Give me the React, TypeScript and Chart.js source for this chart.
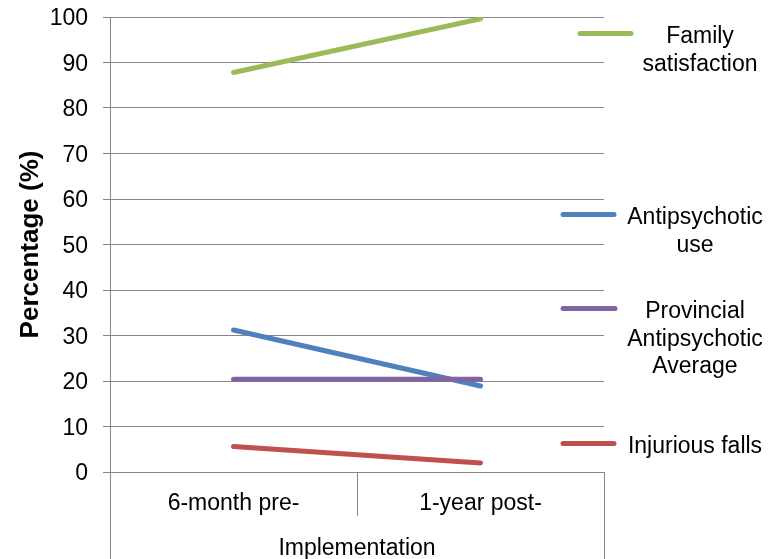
import React, { useEffect, useRef } from "react";
import { Chart, registerables } from "chart.js";

Chart.register(...registerables);

// ---- data ----
const categories = ["6-month pre-", "1-year post-"];
const groupLabel = "Implementation";
const yAxisTitle = "Percentage (%)";
const seriesNames = [
  "Family satisfaction",
  "Antipsychotic use",
  "Provincial Antipsychotic Average",
  "Injurious falls",
];
const familySatisfaction = [87.8, 99.6];
const antipsychoticUse = [31.2, 18.9];
const provincialAverage = [20.4, 20.4];
const injuriousFalls = [5.6, 2.0];
const yMin = 0;
const yMax = 100;
const yStep = 10;

// ---- styles ----
const seriesColors = ["#9BBB59", "#4F81BD", "#8064A2", "#C0504D"];
const axisColor = "#868686";
const fontFamily = "'Liberation Sans', Arial, sans-serif";

// legend layout (pixel positions of each entry, style only)
const legendLayout = [
  { x1: 580, x2: 631, textX: 700, y: 35 },
  { x1: 563, x2: 614, textX: 695, y: 216 },
  { x1: 563, x2: 615, textX: 695, y: 310 },
  { x1: 563, x2: 614, textX: 695, y: 445 },
];

function wrapText(ctx: CanvasRenderingContext2D, text: string, maxWidth: number): string[] {
  const words = text.split(" ");
  const lines: string[] = [];
  let cur = "";
  for (const w of words) {
    const test = cur ? cur + " " + w : w;
    if (cur && ctx.measureText(test).width > maxWidth) {
      lines.push(cur);
      cur = w;
    } else {
      cur = test;
    }
  }
  if (cur) lines.push(cur);
  return lines;
}

const legendPlugin = {
  id: "customLegend",
  afterDraw(chart: any) {
    const ctx: CanvasRenderingContext2D = chart.ctx;
    ctx.save();
    ctx.font = `23px ${fontFamily}`;
    ctx.fillStyle = "#000000";
    ctx.textAlign = "center";
    ctx.textBaseline = "middle";
    chart.data.datasets.forEach((ds: any, i: number) => {
      const l = legendLayout[i];
      if (!l) return;
      ctx.strokeStyle = ds.borderColor;
      ctx.lineWidth = 5;
      ctx.lineCap = "round";
      ctx.beginPath();
      ctx.moveTo(l.x1, l.y - 1.5);
      ctx.lineTo(l.x2, l.y - 1.5);
      ctx.stroke();
      const lines = wrapText(ctx, ds.label, 150);
      lines.forEach((t, k) => ctx.fillText(t, l.textX, l.y + 2 + k * 27.5));
    });
    ctx.restore();
  },
};

const separatorPlugin = {
  id: "categorySeparators",
  afterDraw(chart: any) {
    const ctx: CanvasRenderingContext2D = chart.ctx;
    const x = chart.scales.x;
    const top = chart.chartArea.bottom;
    const n = chart.data.labels.length;
    const step = (x.right - x.left) / n;
    ctx.save();
    ctx.strokeStyle = axisColor;
    ctx.lineWidth = 1;
    ctx.beginPath();
    for (let i = 0; i <= n; i++) {
      const px = Math.round(x.left + i * step) + 0.5;
      const outer = i === 0 || i === n;
      ctx.moveTo(px, top);
      ctx.lineTo(px, outer ? chart.height : top + 44);
    }
    ctx.stroke();
    ctx.restore();
  },
};

export default function App() {
  const ref = useRef<HTMLCanvasElement | null>(null);

  useEffect(() => {
    document.body.style.margin = "0";
    if (!ref.current) return;
    const series = [familySatisfaction, antipsychoticUse, provincialAverage, injuriousFalls];
    const chart = new Chart(ref.current, {
      type: "line",
      data: {
        labels: categories,
        datasets: series.map((d, i) => ({
          label: seriesNames[i],
          data: d,
          borderColor: seriesColors[i],
          backgroundColor: seriesColors[i],
          borderWidth: 5,
          borderCapStyle: "round" as const,
          borderJoinStyle: "round" as const,
          pointRadius: 0,
          pointHoverRadius: 0,
          fill: false,
          tension: 0,
          order: series.length - 1 - i,
        })),
      },
      options: {
        responsive: false,
        animation: false,
        events: [],
        layout: { padding: { left: 0, top: 17, right: 179, bottom: 0 } },
        plugins: {
          legend: { display: false },
          tooltip: { enabled: false },
          title: { display: false },
        },
        scales: {
          x: {
            type: "category",
            offset: true,
            grid: { display: false, drawTicks: false, tickLength: 0 },
            border: { display: true, color: axisColor, width: 1 },
            ticks: {
              color: "#000000",
              padding: 18,
              maxRotation: 0,
              autoSkip: false,
              font: { family: fontFamily, size: 23 },
            },
            title: {
              display: true,
              text: groupLabel,
              color: "#000000",
              font: { family: fontFamily, size: 23, lineHeight: 1 },
              padding: { top: 0, bottom: -1.5 },
            },
            afterFit(scale: any) {
              scale.height = 87;
              scale.paddingLeft = 0;
              scale.paddingRight = 0;
            },
          },
          y: {
            type: "linear",
            min: yMin,
            max: yMax,
            ticks: {
              stepSize: yStep,
              color: "#000000",
              padding: 15,
              labelOffset: 2,
              font: { family: fontFamily, size: 23 },
            },
            grid: {
              color: axisColor,
              lineWidth: 1,
              drawTicks: true,
              tickLength: 7,
            },
            border: { display: true, color: axisColor, width: 1 },
            title: {
              display: true,
              text: yAxisTitle,
              color: "#000000",
              font: { family: fontFamily, size: 26, weight: "bold", lineHeight: 1 },
              padding: { top: 17.5, bottom: 0 },
            },
            afterFit(scale: any) {
              scale.width = 110;
              scale.paddingTop = 0;
              scale.paddingBottom = 0;
            },
          },
        },
      },
      plugins: [separatorPlugin, legendPlugin],
    });
    return () => chart.destroy();
  }, []);

  return (
    <div style={{ position: "fixed", left: 0, top: 0, width: 783, height: 559, background: "#ffffff" }}>
      <canvas ref={ref} width={783} height={559} style={{ display: "block" }} />
    </div>
  );
}
